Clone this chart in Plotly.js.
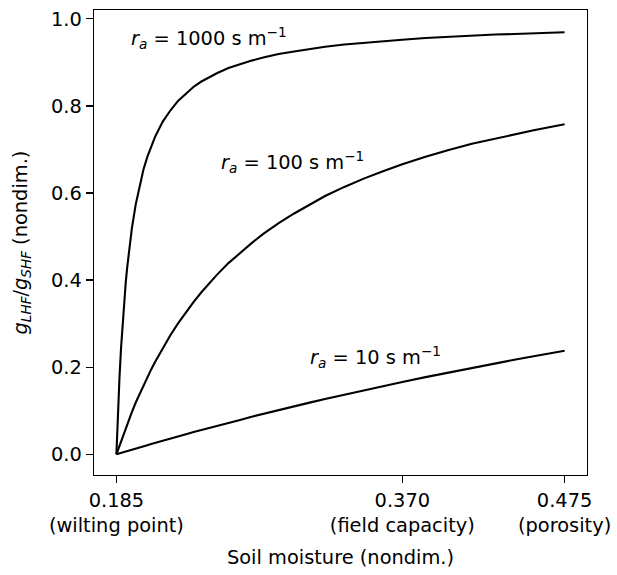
<!DOCTYPE html>
<html>
<head>
<meta charset="utf-8">
<script src="https://cdn.plot.ly/plotly-3.0.1.min.js"></script>
<style>html,body{margin:0;padding:0;background:#fff;}#chart{width:617px;height:575px;}</style>
</head>
<body>
<div id="chart"></div>
<script>
// Soil moisture (nondim.)
const soilMoisture = [0.185, 0.1855, 0.186, 0.1865, 0.187, 0.188, 0.189, 0.19, 0.191, 0.192, 0.1935, 0.195, 0.1975, 0.2, 0.2025, 0.205, 0.2075, 0.21, 0.215, 0.22, 0.225, 0.23, 0.235, 0.24, 0.245, 0.25, 0.2575, 0.265, 0.2725, 0.28, 0.29, 0.3, 0.31, 0.32, 0.3325, 0.345, 0.3575, 0.37, 0.385, 0.4, 0.415, 0.43, 0.4425, 0.455, 0.465, 0.475];
// g_LHF / g_SHF for each aerodynamic resistance r_a
const ra1000 = [0, 0.051, 0.097, 0.139, 0.177, 0.244, 0.301, 0.350, 0.393, 0.430, 0.478, 0.519, 0.574, 0.618, 0.654, 0.683, 0.708, 0.729, 0.764, 0.790, 0.812, 0.829, 0.844, 0.856, 0.866, 0.875, 0.887, 0.896, 0.904, 0.911, 0.919, 0.925, 0.931, 0.936, 0.941, 0.945, 0.949, 0.952, 0.956, 0.959, 0.961, 0.964, 0.965, 0.967, 0.968, 0.969];
const ra100  = [0, 0.005, 0.011, 0.016, 0.021, 0.031, 0.041, 0.051, 0.061, 0.070, 0.084, 0.097, 0.119, 0.139, 0.159, 0.177, 0.195, 0.212, 0.244, 0.274, 0.301, 0.327, 0.350, 0.372, 0.393, 0.412, 0.439, 0.463, 0.485, 0.506, 0.531, 0.553, 0.574, 0.593, 0.614, 0.633, 0.650, 0.666, 0.683, 0.699, 0.713, 0.725, 0.735, 0.744, 0.751, 0.758];
const ra10   = [0, 0.0005, 0.001, 0.0016, 0.002, 0.003, 0.0043, 0.005, 0.0064, 0.008, 0.0091, 0.011, 0.0133, 0.016, 0.0185, 0.021, 0.0237, 0.026, 0.0313, 0.036, 0.0413, 0.046, 0.0511, 0.056, 0.0607, 0.066, 0.0725, 0.079, 0.0862, 0.093, 0.1016, 0.110, 0.1187, 0.127, 0.1371, 0.147, 0.1567, 0.166, 0.1773, 0.188, 0.1986, 0.209, 0.2172, 0.225, 0.2318, 0.238];

const xTickVals = [0.185, 0.370, 0.475];
const xTickText = ["0.185<br>(wilting point)", "0.370<br>(field capacity)", "0.475<br>(porosity)"];
const yTickVals = [0.0, 0.2, 0.4, 0.6, 0.8, 1.0];
const yTickText = ["0.0", "0.2", "0.4", "0.6", "0.8", "1.0"];

const labels = [
  {text: "<i>r</i><sub><i>a</i></sub> = 1000 s m<sup>−1</sup>", x: 0.2449, y: 0.957},
  {text: "<i>r</i><sub><i>a</i></sub> = 100 s m<sup>−1</sup>", x: 0.2990, y: 0.672},
  {text: "<i>r</i><sub><i>a</i></sub> = 10 s m<sup>−1</sup>", x: 0.3525, y: 0.223}
];

const FONT = "DejaVu Sans, sans-serif";
const FS = 19.4;
const lineStyle = {color: "black", width: 2.1};

const traces = [ra1000, ra100, ra10].map(ys => ({
  x: soilMoisture, y: ys, type: "scatter", mode: "lines", line: lineStyle, hoverinfo: "skip"
}));

const layout = {
  width: 617, height: 575,
  margin: {l: 94, r: 30, t: 10, b: 100},
  paper_bgcolor: "white", plot_bgcolor: "white",
  showlegend: false,
  font: {family: FONT, size: FS, color: "black"},
  xaxis: {
    range: [0.1705, 0.4895], tickmode: "array", tickvals: xTickVals, ticktext: xTickText,
    showgrid: false, zeroline: false, showline: true, mirror: true, linecolor: "black", linewidth: 1.3,
    ticks: "outside", ticklen: 7, tickwidth: 1.3, tickcolor: "black",
    tickfont: {family: FONT, size: FS, color: "black"},
    title: {text: "Soil moisture (nondim.)", font: {family: FONT, size: FS, color: "black"}, standoff: 14}
  },
  yaxis: {
    range: [-0.0475, 1.0202], tickmode: "array", tickvals: yTickVals, ticktext: yTickText,
    showgrid: false, zeroline: false, showline: true, mirror: true, linecolor: "black", linewidth: 1.3,
    ticks: "outside", ticklen: 7, tickwidth: 1.3, tickcolor: "black",
    tickfont: {family: FONT, size: FS, color: "black"},
    title: {text: "<i>g</i><sub><i>LHF</i></sub>/<i>g</i><sub><i>SHF</i></sub> (nondim.)", font: {family: FONT, size: FS, color: "black"}, standoff: 18}
  },
  annotations: labels.map(l => ({
    x: l.x, y: l.y, xref: "x", yref: "y", text: l.text, showarrow: false,
    xanchor: "center", yanchor: "middle", font: {family: FONT, size: FS, color: "black"}
  }))
};

Plotly.newPlot("chart", traces, layout, {staticPlot: true, displayModeBar: false});
</script>
</body>
</html>
